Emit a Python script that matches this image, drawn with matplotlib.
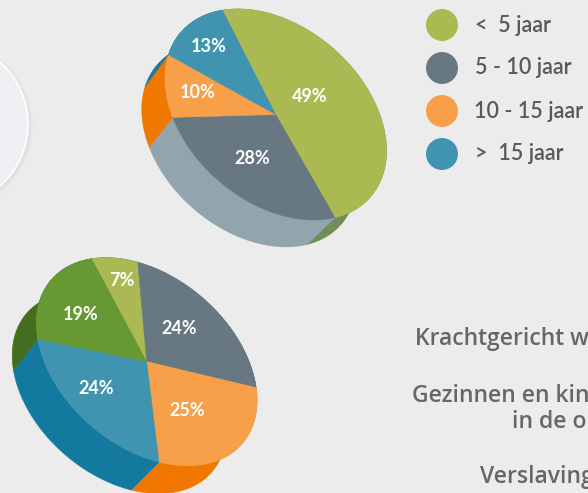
import numpy as np
import matplotlib
matplotlib.use("Agg")
import matplotlib.pyplot as plt
from matplotlib.patches import Circle
from matplotlib.transforms import Affine2D

# data
legend_labels = ["<  5 jaar", "5 - 10 jaar", "10 - 15 jaar", ">  15 jaar"]
legend_colors = ["#abb952", "#677883", "#f79f49", "#4194b0"]

top_shares = [49, 28, 10, 13]
top_colors = ["#abb952", "#677883", "#f79f49", "#4194b0"]
top_sides = ["#708e55", "#92a5ae", "#f07800", "#1a7a9e"]

low_shares = [7, 24, 25, 24, 19]
low_colors = ["#abb952", "#677883", "#f79f49", "#4194b0", "#669933"]
low_sides = ["#4a6e22", "#5c6c76", "#f07800", "#14799f", "#446d20"]

# these lines run off the right edge in the reference too
side_texts = ["Krachtgericht w", "Gezinnen en kin", "in de op", "Verslaving"]

# layout, all in image pixels
BG = "#ececec"
BOTTOM_SCALE = 0.97  # lower rim is a bit smaller than the top face
TOP_PIE = dict(center=(275.7, 114.5), semi=(125.5, 87.5), tilt=41, start=-150, depth=(-26.5, 30))
LOW_PIE = dict(center=(146.7, 361.7), semi=(125.7, 84.8), tilt=40.5, start=-150, depth=(-27.5, 31))
top_label_xy = [(310, 96), (252, 158), (198, 92), (209, 47)]
low_label_xy = [(122, 281), (179, 329), (187, 411), (96, 388), (81, 314)]
legend_y = [25, 68, 111, 154]
legend_text_x = [475, 475, 474, 475]
side_text_xy = [(415, 345), (412, 402), (512, 428), (480, 483)]

plt.rcParams["font.family"] = ["Lato", "DejaVu Sans"]

fig = plt.figure(figsize=(5.88, 4.93), dpi=100, facecolor=BG)
ax = fig.add_axes([0, 0, 1, 1])


def tilted_pie(shares, colors, sides, labels_xy, center, semi, tilt, start, depth):
    # flat pie on a unit circle, then pushed onto the tilted ellipse
    wedges, _ = ax.pie(shares, colors=colors, startangle=start, radius=1,
                       wedgeprops=dict(linewidth=0.4))
    t = np.radians(tilt)
    a = semi[0] * np.cos(t)
    b = semi[0] * np.sin(t)
    c = -semi[1] * np.sin(t)
    d = semi[1] * np.cos(t)
    skew = Affine2D.from_values(a, b, c, d, center[0], center[1])
    for w, col, side in zip(wedges, colors, sides):
        w.set_edgecolor(col)
        w.set_transform(skew + ax.transData)
        # side wall below this slice
        th = np.radians(np.linspace(w.theta1, w.theta2, 80))
        rx = a * np.cos(th) + c * np.sin(th)
        ry = b * np.cos(th) + d * np.sin(th)
        low_x = center[0] + depth[0] + BOTTOM_SCALE * rx
        low_y = center[1] + depth[1] + BOTTOM_SCALE * ry
        ax.fill(np.r_[center[0] + rx, low_x[::-1]], np.r_[center[1] + ry, low_y[::-1]],
                color=side, lw=0.4, zorder=0.5)
    for val, (x, y) in zip(shares, labels_xy):
        ax.text(x, y, f"{val}%", color="white", fontsize=13, fontweight="bold",
                ha="center", va="center", zorder=5)


tilted_pie(top_shares, top_colors, top_sides, top_label_xy, **TOP_PIE)
tilted_pie(low_shares, low_colors, low_sides, low_label_xy, **LOW_PIE)

# disc cut off at the left edge, with a soft shadow
for grow, alpha in zip([4, 3, 2, 1], [0.015, 0.02, 0.03, 0.04]):
    ax.add_patch(Circle((-53, 126), 82.6 + grow, color="#7f8c96", alpha=alpha, lw=0, zorder=1))
ax.add_patch(Circle((-54.6, 124), 82.6, facecolor="#eef0f3", edgecolor="white", lw=1.2, zorder=2))

# legend
ax.scatter([442] * 4, legend_y, s=530, c=legend_colors, linewidths=0, zorder=3)
for lab, x, y in zip(legend_labels, legend_text_x, legend_y):
    ax.text(x, y, lab, color="#555a5e", fontsize=15.5, fontweight="semibold", va="center", ha="left")

for txt, (x, y) in zip(side_texts, side_text_xy):
    ax.text(x, y, txt, color="#666666", fontsize=16.5, fontweight="semibold",
            family=["Open Sans", "DejaVu Sans"], va="baseline", ha="left")

ax.set_xlim(0, 588)
ax.set_ylim(493, 0)
ax.set_aspect("auto")
ax.axis("off")

fig.savefig("out.png", dpi=100, facecolor=BG)
